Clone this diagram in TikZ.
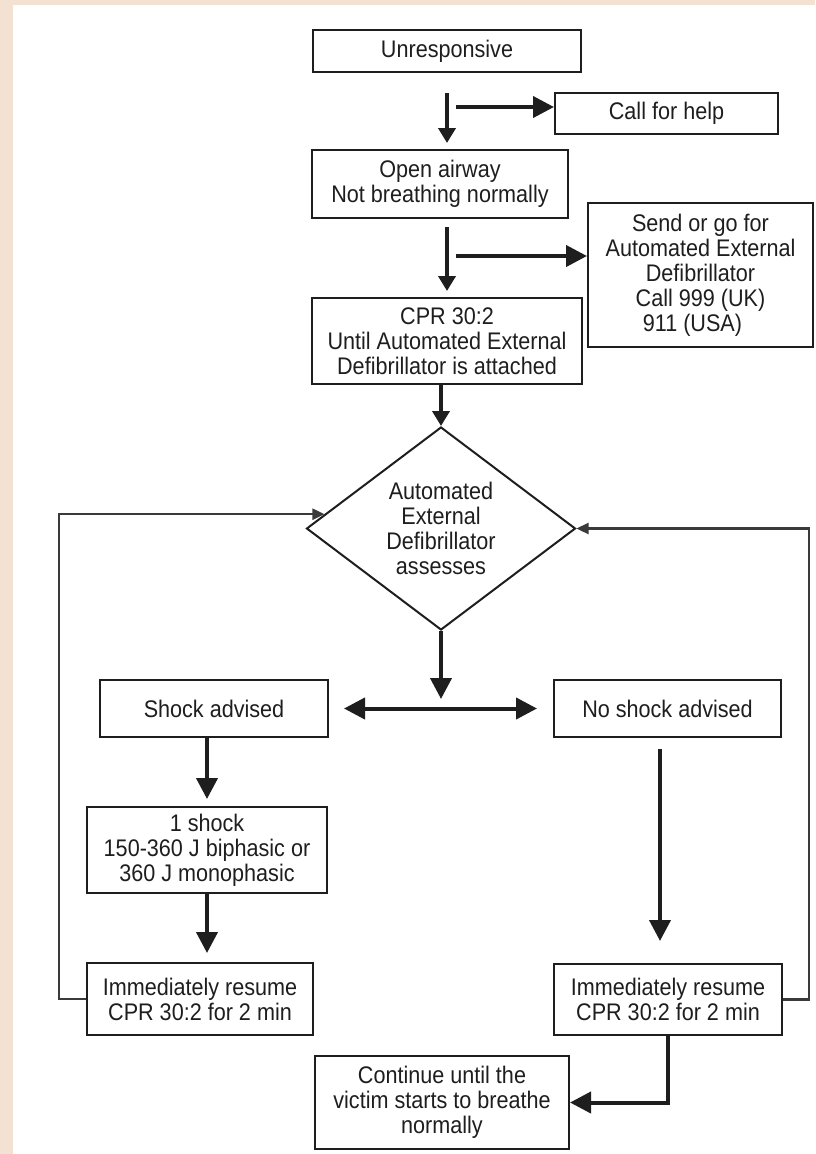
\documentclass[tikz,border=0pt]{standalone}
\usepackage{fontspec}
\setmainfont[FakeStretch=0.9]{Liberation Sans}
\usetikzlibrary{arrows.meta,shapes.geometric}
\definecolor{bgc}{HTML}{F3E1D2}
\definecolor{ln}{HTML}{1E1E1E}
\definecolor{lp}{HTML}{3A3A3A}
\begin{document}
\begin{tikzpicture}[x=1pt,y=-1pt,
  every node/.style={font=\fontsize{24}{25}\selectfont, text=ln},
  box/.style={draw=ln, line width=2pt, inner sep=0pt, align=center, fill=white},
  dbox/.style={diamond, draw=ln, line width=2pt, inner sep=0pt, aspect=1.33, align=center, fill=white},
  arrM/.style={draw=ln, line width=4pt, -{Triangle[length=15pt,width=17pt]}},
  arrL/.style={draw=ln, line width=4pt, -{Triangle[length=21pt,width=21pt]}},
  arrD/.style={draw=ln, line width=4pt, {Triangle[length=21pt,width=21pt]}-{Triangle[length=21pt,width=21pt]}},
  looparr/.style={draw=lp, line width=2.3pt, -{Triangle[length=12pt,width=11pt]}}
]
\useasboundingbox (0,0) rectangle (815,1154);
\fill[bgc] (0,0) rectangle (815,1154);
\fill[white] (13,5) rectangle (815,1154);

% nodes
\node[box,minimum width=268pt,minimum height=42pt] (unr) at (447,51) {Unresponsive};
\node[box,minimum width=223pt,minimum height=41pt] (help) at (666.5,113.5) {Call for help};
\node[box,minimum width=256pt,minimum height=68pt] (air) at (440,184) {Open airway\\Not breathing normally};
\node[box,minimum width=225pt,minimum height=144pt] (send) at (700.5,275) {Send or go for\\Automated External\\Defibrillator\\Call 999 (UK)\\911 (USA)\hspace*{16pt}};
\node[box,minimum width=270pt,minimum height=86pt] (cpr) at (447,341) {CPR 30:2\\Until Automated External\\Defibrillator is attached};
\node[dbox,minimum width=269pt,minimum height=203pt] (aed) at (441,528.5) {Automated\\External\\Defibrillator\\assesses};
\node[box,minimum width=228pt,minimum height=57pt] (shock) at (214,708.5) {Shock advised};
\node[box,minimum width=227pt,minimum height=57pt] (noshock) at (667.5,708.5) {No shock advised};
\node[box,minimum width=240pt,minimum height=86pt] (one) at (207,850) {1 shock\\150-360 J biphasic or\\360 J monophasic};
\node[box,minimum width=226pt,minimum height=72pt] (resL) at (200,999) {Immediately resume\\CPR 30:2 for 2 min};
\node[box,minimum width=228pt,minimum height=71pt] (resR) at (668,999.5) {Immediately resume\\CPR 30:2 for 2 min};
\node[box,minimum width=254pt,minimum height=93pt] (cont) at (442,1102.5) {Continue until the\\victim starts to breathe\\normally};

% free ends
\coordinate (v1s) at (447,93);
\coordinate (v1e) at (447,143);
\coordinate (h1s) at (456,107);
\coordinate (v2s) at (447,227);
\coordinate (v2e) at (447,291);
\coordinate (h2s) at (456,256);
\coordinate (jn) at (441,699);

% connectors
\draw[arrM] (v1s) -- (v1e);
\draw[arrL] (h1s) -- (help.west |- h1s);
\draw[arrM] (v2s) -- (v2e);
\draw[arrL] (h2s) -- (send.west |- h2s);
\draw[arrM] (cpr.south -| aed.north) -- (aed.north);
\draw[arrL] (aed.south) -- (jn);
\draw[arrD, shorten <=15pt, shorten >=16pt] (shock.east) -- (noshock.west);
\draw[arrL, shorten >=7pt] (one.north |- shock.south) -- (one.north);
\draw[arrL, shorten >=9pt] (one.south) -- (one.south |- resL.north);
\draw[arrL, shorten <=11pt, shorten >=22pt] ([xshift=-7.5pt]noshock.south) -- ([xshift=-8pt]resR.north);
\draw[looparr] (resL.west) -- ++(-27,0) |- (aed.173);
\draw[looparr] (resR.east) -- ++(26,0) |- (aed.east);
\draw[arrL] (resR.south) |- (cont.east);
\end{tikzpicture}
\end{document}
